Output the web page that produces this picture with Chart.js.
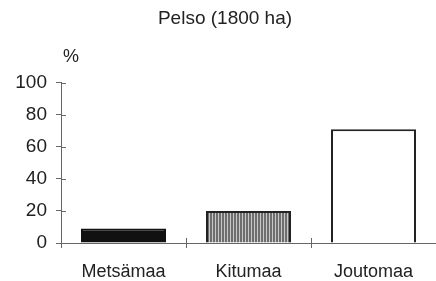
<!DOCTYPE html>
<html>
<head>
<meta charset="utf-8">
<script src="https://cdn.jsdelivr.net/npm/chart.js@4/dist/chart.umd.min.js"></script>
<style>
  html, body { margin: 0; padding: 0; background: #fff; }
  #wrap { width: 436px; height: 281px; }
</style>
</head>
<body>
<div id="wrap"><canvas id="landChart" width="436" height="281"></canvas></div>
<script>
// data
const categories = ['Metsämaa', 'Kitumaa', 'Joutomaa'];
const shares = [9, 20, 71];
const yTicks = [0, 20, 40, 60, 80, 100];

const axisColor = '#666';
const textColor = '#222';
const fontFamily = '"Liberation Sans", Arial, Helvetica, sans-serif';

// vertical stripe fill for the middle bar
function stripePattern(ctx) {
    const c = document.createElement('canvas');
    c.width = 3; c.height = 4;
    const p = c.getContext('2d');
    p.fillStyle = '#6e6e6e';
    p.fillRect(0, 0, 2, 4);
    p.fillStyle = '#c8c8c8';
    p.fillRect(2, 0, 1, 4);
    return ctx.createPattern(c, 'repeat');
}

// ticks that cross the axis line + the "%" unit label
const axisExtras = {
    id: 'axisExtras',
    afterDraw(chart) {
        const ctx = chart.ctx;
        const x = chart.scales.x, y = chart.scales.y;
        ctx.save();
        ctx.strokeStyle = axisColor;
        ctx.lineWidth = 1;
        ctx.beginPath();
        y.ticks.forEach((t, i) => {
            const py = Math.round(y.getPixelForTick(i)) + 0.5;
            ctx.moveTo(y.right, py);
            ctx.lineTo(y.right + 5, py);
        });
        for (let i = 1; i < categories.length; i++) {
            const px = Math.round((x.getPixelForValue(i - 1) + x.getPixelForValue(i)) / 2) + 0.5;
            ctx.moveTo(px, x.top);
            ctx.lineTo(px, x.top - 5);
        }
        ctx.stroke();
        ctx.fillStyle = textColor;
        ctx.font = '18px ' + fontFamily;
        ctx.textAlign = 'center';
        ctx.textBaseline = 'middle';
        ctx.fillText('%', y.right + 10, chart.chartArea.top - 26);
        ctx.restore();
    }
};

const ctx = document.getElementById('landChart').getContext('2d');
const chart = new Chart(ctx, {
    type: 'bar',
    data: {
        labels: categories,
        datasets: [{
            data: shares,
            backgroundColor: ['#111', stripePattern(ctx), '#fff'],
            borderColor: ['#111', '#222', '#222'],
            borderWidth: 2,
            borderSkipped: 'bottom',
            barPercentage: 0.68,
            categoryPercentage: 1
        }]
    },
    options: {
        responsive: false,
        animation: false,
        layout: { padding: { left: 14, right: 0, top: 0, bottom: 0 } },
        plugins: {
            legend: { display: false },
            tooltip: { enabled: false },
            title: {
                display: true,
                text: 'Pelso (1800 ha)',
                color: textColor,
                font: { family: fontFamily, size: 19, weight: 'normal', lineHeight: 1.2 },
                padding: { top: 7, bottom: 53 }
            }
        },
        scales: {
            x: {
                offset: true,
                grid: { display: true, drawOnChartArea: false, tickLength: 5, color: axisColor, offset: true },
                border: { color: axisColor },
                ticks: { color: textColor, font: { family: fontFamily, size: 18 }, padding: 13, maxRotation: 0 },
                afterFit(scale) { scale.height = 38; }
            },
            y: {
                min: 0,
                max: 100,
                afterBuildTicks(scale) { scale.ticks = yTicks.map(v => ({ value: v })); },
                grid: { display: true, drawOnChartArea: false, tickLength: 5, color: axisColor },
                border: { color: axisColor },
                ticks: { color: textColor, font: { family: fontFamily, size: 19 }, padding: 9 },
                afterFit(scale) { scale.width = 47; }
            }
        }
    },
    plugins: [axisExtras]
});
</script>
</body>
</html>
